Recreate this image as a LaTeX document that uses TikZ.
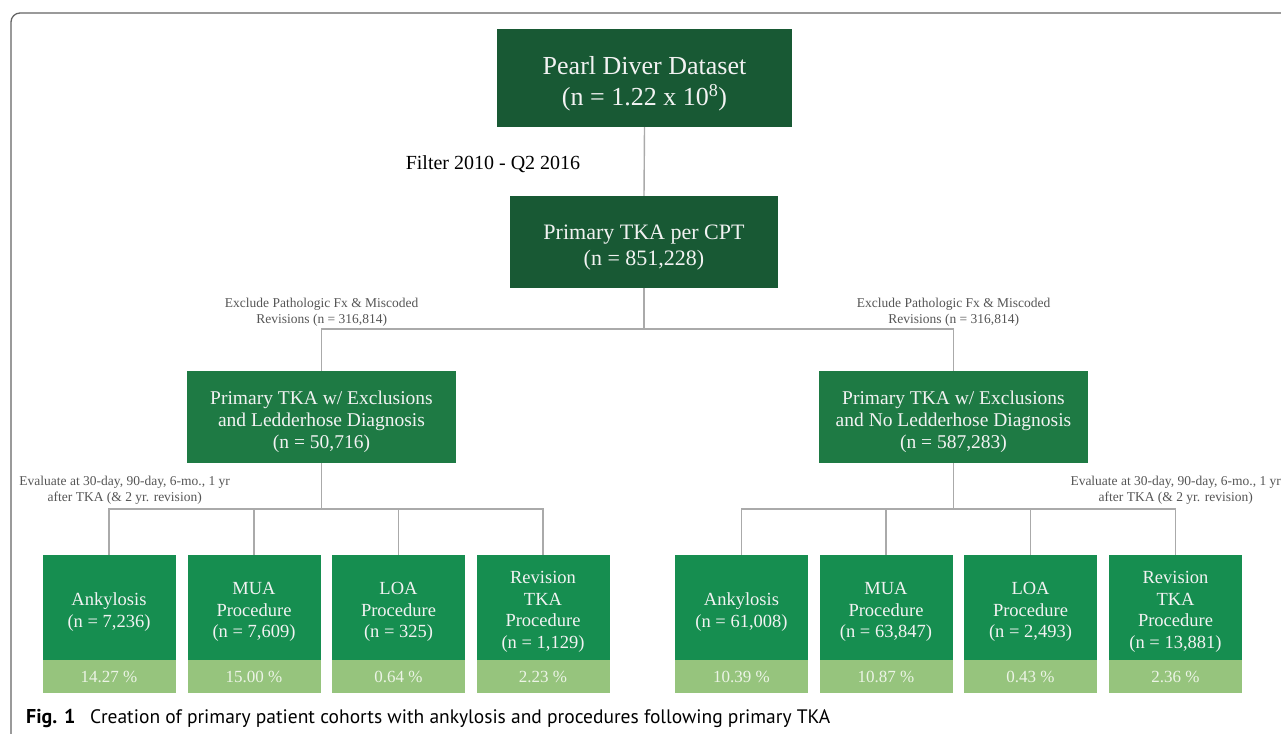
\documentclass[tikz,border=0pt]{standalone}
\usepackage{fontspec}
\setmainfont{Liberation Serif}
\newfontfamily\capfont{PT Sans}
\definecolor{dkgreen}{RGB}{24,89,52}
\definecolor{mdgreen}{RGB}{30,122,68}
\definecolor{btgreen}{RGB}{22,142,80}
\definecolor{ltgreen}{RGB}{150,196,125}
\definecolor{connc}{RGB}{170,170,170}
\definecolor{labc}{RGB}{85,85,85}
\definecolor{framec}{RGB}{100,100,100}
\definecolor{boxtext}{RGB}{242,242,242}
\definecolor{pcttext}{RGB}{236,244,230}
\tikzset{
  gbox/.style={inner sep=0pt},
  gtxt/.style={inner sep=0pt, align=center, text=boxtext},
  topbox/.style={gbox, fill=dkgreen, minimum width=295pt, minimum height=98pt},
  toptxt/.style={gtxt, yshift=-5.5pt, font=\fontsize{26}{31}\selectfont},
  cptbox/.style={gbox, fill=dkgreen, minimum width=268pt, minimum height=92pt},
  cpttxt/.style={gtxt, yshift=-6pt, font=\fontsize{22}{26}\selectfont},
  lvbox/.style={gbox, fill=mdgreen, minimum width=269pt, minimum height=92pt},
  lvtxt/.style={gtxt, yshift=-4.5pt, font=\fontsize{19.5}{22}\selectfont},
  outbox/.style={gbox, fill=btgreen, minimum width=133pt, minimum height=105pt},
  outtxt/.style={gtxt, yshift=-4.5pt, font=\fontsize{18.5}{21.5}\selectfont},
  pctbox/.style={gbox, align=center, fill=ltgreen, text=pcttext, minimum width=133pt, minimum height=33pt, font=\fontsize{17}{20}\selectfont},
  lab/.style={inner sep=0pt, align=center, text=labc, font=\fontsize{13.5}{15.8}\selectfont},
  conn/.style={draw=connc, line width=1.4pt}
}
\begin{document}
\begin{tikzpicture}[x=1pt,y=-1pt]
\useasboundingbox (0,0) rectangle (1281,733);
% frame
\draw[framec, line width=1.3pt, rounded corners=9pt] (11,740) -- (11,13) -- (1290,13);
% top levels
\node[topbox] (top) at (644.5,78) {};
\node[toptxt] (top-t) at (top.center) {Pearl Diver Dataset\\(n = 1.22 x 10\textsuperscript{8})};
\node[inner sep=0pt, font=\fontsize{20}{24}\selectfont] (filt) at (493,164) {Filter 2010 - Q2 2016};
\node[cptbox] (cpt) at (644,242) {};
\node[cpttxt] (cpt-t) at (cpt.center) {Primary TKA per CPT\\(n = 851,228)};
\node[lab] (exa) at (321.7,312) {Exclude Pathologic Fx \& Miscoded\\Revisions (n = 316,814)};
\node[lab] (exb) at (953.7,312) {Exclude Pathologic Fx \& Miscoded\\Revisions (n = 316,814)};
\node[lvbox] (la) at (321.5,417) {};
\node[lvtxt] (la-t) at (la.center) {Primary TKA w/ Exclusions\\and Ledderhose Diagnosis\\(n = 50,716)};
\node[lvbox] (lb) at (953.5,417) {};
\node[lvtxt] (lb-t) at (lb.center) {Primary TKA w/ Exclusions\\and No Ledderhose Diagnosis\\(n = 587,283)};
\node[lab] (eva) at (124.7,490.5) {Evaluate at 30-day, 90-day, 6-mo., 1 yr\\after TKA (\& 2 yr. revision)};
\node[lab] (evb) at (1175.7,490.5) {Evaluate at 30-day, 90-day, 6-mo., 1 yr\\after TKA (\& 2 yr. revision)};
% outcome boxes left
\node[outbox] (a1) at (109,607.5) {};
\node[outtxt] (a1-t) at (a1.center) {Ankylosis\\(n = 7,236)};
\node[outbox] (a2) at (254,607.5) {};
\node[outtxt] (a2-t) at (a2.center) {MUA\\Procedure\\(n = 7,609)};
\node[outbox] (a3) at (398.5,607.5) {};
\node[outtxt] (a3-t) at (a3.center) {LOA\\Procedure\\(n = 325)};
\node[outbox] (a4) at (543,607.5) {};
\node[outtxt] (a4-t) at (a4.center) {Revision\\TKA\\Procedure\\(n = 1,129)};
\node[pctbox] (pa1) at (109,676.5) {14.27 \%};
\node[pctbox] (pa2) at (254,676.5) {15.00 \%};
\node[pctbox] (pa3) at (398.5,676.5) {0.64 \%};
\node[pctbox] (pa4) at (543,676.5) {2.23 \%};
% outcome boxes right
\node[outbox] (b1) at (741.5,607.5) {};
\node[outtxt] (b1-t) at (b1.center) {Ankylosis\\(n = 61,008)};
\node[outbox] (b2) at (886,607.5) {};
\node[outtxt] (b2-t) at (b2.center) {MUA\\Procedure\\(n = 63,847)};
\node[outbox] (b3) at (1030.5,607.5) {};
\node[outtxt] (b3-t) at (b3.center) {LOA\\Procedure\\(n = 2,493)};
\node[outbox] (b4) at (1175.5,607.5) {};
\node[outtxt] (b4-t) at (b4.center) {Revision\\TKA\\Procedure\\(n = 13,881)};
\node[pctbox] (pb1) at (741.5,676.5) {10.39 \%};
\node[pctbox] (pb2) at (886,676.5) {10.87 \%};
\node[pctbox] (pb3) at (1030.5,676.5) {0.43 \%};
\node[pctbox] (pb4) at (1175.5,676.5) {2.36 \%};
% connectors
\coordinate (s1) at (644,329);
\coordinate (s2) at (321.5,509);
\coordinate (s3) at (953.5,509);
\draw[conn] (top.south) -- (cpt.north);
\draw[conn] (cpt.south) -- (s1);
\draw[conn] (la.north) |- (s1) -| (lb.north);
\draw[conn] (la.south) -- (s2);
\draw[conn] (a1.north) |- (s2) -| (a4.north);
\draw[conn] (a2.north) -- (a2.north |- s2);
\draw[conn] (a3.north) -- (a3.north |- s2);
\draw[conn] (lb.south) -- (s3);
\draw[conn] (b1.north) |- (s3) -| (b4.north);
\draw[conn] (b2.north) -- (b2.north |- s3);
\draw[conn] (b3.north) -- (b3.north |- s3);
% caption
\node[anchor=base west, inner sep=0pt, font=\capfont\bfseries\fontsize{20}{24}\selectfont] (cap-a) at (26,723) {Fig. 1};
\node[anchor=base west, inner sep=0pt, font=\capfont\fontsize{19.5}{24}\selectfont] (cap-b) at (90,723) {Creation of primary patient cohorts with ankylosis and procedures following primary TKA};
\end{tikzpicture}
\end{document}
